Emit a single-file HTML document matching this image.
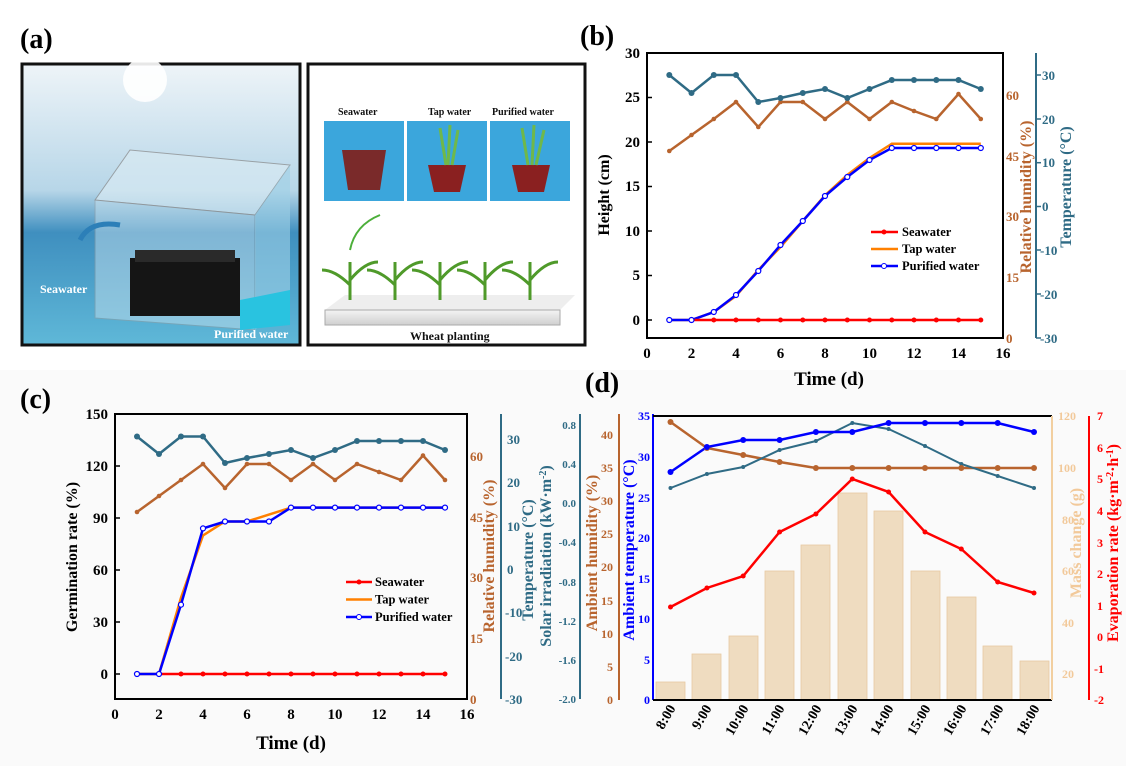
<!DOCTYPE html>
<html><head><meta charset="utf-8"><style>
html,body{margin:0;padding:0;background:#fff}
svg{display:block;font-family:"Liberation Serif",serif;font-weight:bold}
</style></head><body>
<svg width="1126" height="766" viewBox="0 0 1126 766" xmlns="http://www.w3.org/2000/svg">
<rect width="1126" height="766" fill="#fff"/>
<rect x="0" y="370" width="1126" height="396" fill="#fafafa"/>
<!-- ===== Panel (a) ===== -->
<text x="20" y="48" font-size="28">(a)</text>
<defs>
<linearGradient id="sky" x1="0" y1="0" x2="0" y2="1">
<stop offset="0" stop-color="#eef4f8"/><stop offset="0.45" stop-color="#b7d6e8"/><stop offset="0.6" stop-color="#3f8fbf"/><stop offset="1" stop-color="#5fb8d8"/></linearGradient>
<linearGradient id="tray" x1="0" y1="0" x2="0" y2="1"><stop offset="0" stop-color="#f4f4f4"/><stop offset="1" stop-color="#cfcfcf"/></linearGradient>
</defs>
<rect x="22" y="64" width="278" height="281" fill="url(#sky)" stroke="#111" stroke-width="3"/>
<circle cx="145" cy="80" r="22" fill="#fff" opacity="0.9"/>
<polygon points="95,200 130,150 290,165 255,215" fill="#d8eaf3" opacity="0.7" stroke="#888"/>
<polygon points="95,200 95,318 255,330 255,215" fill="#cfe5f0" opacity="0.45" stroke="#999"/>
<rect x="130" y="258" width="110" height="58" fill="#151515"/>
<rect x="135" y="250" width="100" height="12" fill="#2a2a2a"/>
<polygon points="255,215 290,165 290,300 255,330" fill="#9fd0e6" opacity="0.6"/>
<polygon points="240,300 290,290 290,325 240,330" fill="#29c3e0"/>
<path d="M80 240 Q90 220 120 225" stroke="#2c7fb8" stroke-width="5" fill="none"/>
<text x="40" y="293" font-size="12" fill="#fff">Seawater</text>
<text x="214" y="338" font-size="12" fill="#fff">Purified water</text>
<rect x="308" y="64" width="277" height="281" fill="#fff" stroke="#111" stroke-width="3"/>
<text x="338" y="115" font-size="10" fill="#111">Seawater</text>
<text x="428" y="115" font-size="10" fill="#111">Tap water</text>
<text x="492" y="115" font-size="10" fill="#111">Purified water</text>
<rect x="324" y="121" width="80" height="80" fill="#3ba6dc"/>
<rect x="407" y="121" width="80" height="80" fill="#3ba6dc"/>
<rect x="490" y="121" width="80" height="80" fill="#3ba6dc"/>
<path d="M342 150 L386 150 L380 190 L348 190Z" fill="#7a2a2a"/>
<path d="M428 165 L466 165 L460 192 L434 192Z" fill="#8a2020"/>
<path d="M446 165 L440 128 M448 165 L450 125 M452 165 L458 130" stroke="#6fb84a" stroke-width="3"/>
<path d="M512 165 L550 165 L544 192 L518 192Z" fill="#8a2020"/>
<path d="M528 165 L522 128 M532 165 L534 125 M536 165 L544 130" stroke="#6fb84a" stroke-width="3"/>
<path d="M350 250 Q355 225 380 215" stroke="#4caf3a" stroke-width="2" fill="none"/>
<polygon points="325,310 560,310 575,295 345,295" fill="#eee"/>
<rect x="325" y="310" width="235" height="15" fill="url(#tray)" stroke="#aaa"/>
<g stroke="#4f9a2a" stroke-width="3" fill="none">
<path d="M350 300 L350 262 M350 285 Q335 270 322 270 M350 280 Q365 262 378 262"/>
<path d="M395 300 L395 262 M395 285 Q380 270 367 270 M395 280 Q410 262 423 262"/>
<path d="M440 300 L440 262 M440 285 Q425 270 412 270 M440 280 Q455 262 468 262"/>
<path d="M485 300 L485 262 M485 285 Q470 270 457 270 M485 280 Q500 262 513 262"/>
<path d="M530 300 L530 262 M530 285 Q515 270 502 270 M530 280 Q545 262 558 262"/>
</g>
<text x="410" y="340" font-size="12" fill="#111">Wheat planting</text>

<!-- ===== Panel (b) ===== -->
<text x="580" y="45" font-size="28">(b)</text>
<rect x="647" y="53" width="356" height="285" fill="none" stroke="#000" stroke-width="2"/>
<g font-size="15" text-anchor="end">
<text x="640" y="325">0</text><text x="640" y="280">5</text><text x="640" y="236">10</text><text x="640" y="191">15</text><text x="640" y="147">20</text><text x="640" y="102">25</text><text x="640" y="58">30</text>
</g>
<g stroke="#000" stroke-width="1.5"><line x1="647" y1="320" x2="652" y2="320"/><line x1="647" y1="275.5" x2="652" y2="275.5"/><line x1="647" y1="231" x2="652" y2="231"/><line x1="647" y1="186.5" x2="652" y2="186.5"/><line x1="647" y1="142" x2="652" y2="142"/><line x1="647" y1="97.5" x2="652" y2="97.5"/></g>
<g font-size="15" text-anchor="middle">
<text x="647" y="358">0</text><text x="691.5" y="358">2</text><text x="736" y="358">4</text><text x="780.5" y="358">6</text><text x="825" y="358">8</text><text x="869.5" y="358">10</text><text x="914" y="358">12</text><text x="958.5" y="358">14</text><text x="1003" y="358">16</text>
</g>
<text x="829" y="385" font-size="19" text-anchor="middle">Time (d)</text>
<text transform="translate(609,195) rotate(-90)" font-size="16" text-anchor="middle">Height (cm)</text>
<g font-size="13" fill="#b8642e">
<text x="1006" y="343">0</text><text x="1006" y="282">15</text><text x="1006" y="221">30</text><text x="1006" y="161">45</text><text x="1006" y="100">60</text>
</g>
<text transform="translate(1031,197) rotate(-90)" font-size="16" fill="#b8642e" text-anchor="middle">Relative humidity (%)</text>
<line x1="1036" y1="53" x2="1036" y2="338" stroke="#2f6b85" stroke-width="2"/>
<g stroke="#2f6b85" stroke-width="1.5"><line x1="1036" y1="338" x2="1041" y2="338"/><line x1="1036" y1="294" x2="1041" y2="294"/><line x1="1036" y1="250" x2="1041" y2="250"/><line x1="1036" y1="206.5" x2="1041" y2="206.5"/><line x1="1036" y1="162.7" x2="1041" y2="162.7"/><line x1="1036" y1="119" x2="1041" y2="119"/><line x1="1036" y1="75" x2="1041" y2="75"/></g>
<g font-size="13" fill="#2f6b85">
<text x="1040" y="343">-30</text><text x="1040" y="299">-20</text><text x="1040" y="255">-10</text><text x="1042" y="211">0</text><text x="1042" y="167">10</text><text x="1042" y="124">20</text><text x="1042" y="80">30</text>
</g>
<text transform="translate(1071,187) rotate(-90)" font-size="16" fill="#2f6b85" text-anchor="middle">Temperature (°C)</text>
<polyline fill="none" stroke="#2f6b85" stroke-width="2.5" points="669.3,75 691.5,93 713.8,75 736,75 758.3,102 780.5,98 802.8,93 825,89 847.3,98 869.5,89 891.8,80 914,80 936.3,80 958.5,80 980.8,89"/>
<polyline fill="none" stroke="#b8642e" stroke-width="2.5" points="669.3,151 691.5,135 713.8,119 736,102 758.3,127 780.5,102 802.8,102 825,119 847.3,102 869.5,119 891.8,102 914,111 936.3,119 958.5,94 980.8,119"/>
<g fill="#b8642e"><circle cx="669.3" cy="151" r="2.3"/><circle cx="691.5" cy="135" r="2.3"/><circle cx="713.8" cy="119" r="2.3"/><circle cx="736" cy="102" r="2.3"/><circle cx="758.3" cy="127" r="2.3"/><circle cx="780.5" cy="102" r="2.3"/><circle cx="802.8" cy="102" r="2.3"/><circle cx="825" cy="119" r="2.3"/><circle cx="847.3" cy="102" r="2.3"/><circle cx="869.5" cy="119" r="2.3"/><circle cx="891.8" cy="102" r="2.3"/><circle cx="914" cy="111" r="2.3"/><circle cx="936.3" cy="119" r="2.3"/><circle cx="958.5" cy="94" r="2.3"/><circle cx="980.8" cy="119" r="2.3"/></g>
<polyline fill="none" stroke="#ff8000" stroke-width="2.5" points="669.3,320 691.5,320 713.8,312 736,296 758.3,270 780.5,247 802.8,221 825,195.4 847.3,175 869.5,158 891.8,143.8 914,143.8 936.3,143.8 958.5,143.8 980.8,143.8"/>
<polyline fill="none" stroke="#0000ff" stroke-width="2.5" points="669.3,320 691.5,320 713.8,312 736,295 758.3,271 780.5,245 802.8,221 825,196 847.3,177 869.5,160 891.8,148 914,148 936.3,148 958.5,148 980.8,148"/>
<polyline fill="none" stroke="#ff0000" stroke-width="2.5" points="691.5,320 713.8,320 736,320 758.3,320 780.5,320 802.8,320 825,320 847.3,320 869.5,320 891.8,320 914,320 936.3,320 958.5,320 980.8,320"/>
<g fill="#ff0000"><circle cx="713.8" cy="320" r="2.5"/><circle cx="736" cy="320" r="2.5"/><circle cx="758.3" cy="320" r="2.5"/><circle cx="780.5" cy="320" r="2.5"/><circle cx="802.8" cy="320" r="2.5"/><circle cx="825" cy="320" r="2.5"/><circle cx="847.3" cy="320" r="2.5"/><circle cx="869.5" cy="320" r="2.5"/><circle cx="891.8" cy="320" r="2.5"/><circle cx="914" cy="320" r="2.5"/><circle cx="936.3" cy="320" r="2.5"/><circle cx="958.5" cy="320" r="2.5"/><circle cx="980.8" cy="320" r="2.5"/></g>
<g fill="#2f6b85"><circle cx="669.3" cy="75" r="3"/><circle cx="691.5" cy="93" r="3"/><circle cx="713.8" cy="75" r="3"/><circle cx="736" cy="75" r="3"/><circle cx="758.3" cy="102" r="3"/><circle cx="780.5" cy="98" r="3"/><circle cx="802.8" cy="93" r="3"/><circle cx="825" cy="89" r="3"/><circle cx="847.3" cy="98" r="3"/><circle cx="869.5" cy="89" r="3"/><circle cx="891.8" cy="80" r="3"/><circle cx="914" cy="80" r="3"/><circle cx="936.3" cy="80" r="3"/><circle cx="958.5" cy="80" r="3"/><circle cx="980.8" cy="89" r="3"/></g>
<g fill="#fff" stroke="#0000ff" stroke-width="1.2"><circle cx="669.3" cy="320" r="2.5"/><circle cx="691.5" cy="320" r="2.5"/><circle cx="713.8" cy="312" r="2.5"/><circle cx="736" cy="295" r="2.5"/><circle cx="758.3" cy="271" r="2.5"/><circle cx="780.5" cy="245" r="2.5"/><circle cx="802.8" cy="221" r="2.5"/><circle cx="825" cy="196" r="2.5"/><circle cx="847.3" cy="177" r="2.5"/><circle cx="869.5" cy="160" r="2.5"/><circle cx="891.8" cy="148" r="2.5"/><circle cx="914" cy="148" r="2.5"/><circle cx="936.3" cy="148" r="2.5"/><circle cx="958.5" cy="148" r="2.5"/><circle cx="980.8" cy="148" r="2.5"/></g>
<line x1="871" y1="232" x2="898" y2="232" stroke="#ff0000" stroke-width="2.5"/><circle cx="884" cy="232" r="2.5" fill="#f00"/>
<line x1="871" y1="249" x2="898" y2="249" stroke="#ff8000" stroke-width="2.5"/>
<line x1="871" y1="266" x2="898" y2="266" stroke="#0000ff" stroke-width="2.5"/><circle cx="884" cy="266" r="2.5" fill="#fff" stroke="#00f"/>
<g font-size="12.5"><text x="902" y="236">Seawater</text><text x="902" y="253">Tap water</text><text x="902" y="270">Purified water</text></g>

<!-- ===== Panel (c) ===== -->
<text x="20" y="408" font-size="28">(c)</text>
<rect x="115" y="414" width="352" height="285" fill="none" stroke="#000" stroke-width="2"/>
<g font-size="15" text-anchor="end">
<text x="108" y="679">0</text><text x="108" y="627">30</text><text x="108" y="575">60</text><text x="108" y="523">90</text><text x="108" y="471">120</text><text x="108" y="419">150</text>
</g>
<g stroke="#000" stroke-width="1.5"><line x1="115" y1="674" x2="120" y2="674"/><line x1="115" y1="622" x2="120" y2="622"/><line x1="115" y1="570" x2="120" y2="570"/><line x1="115" y1="518" x2="120" y2="518"/><line x1="115" y1="466" x2="120" y2="466"/></g>
<g font-size="15" text-anchor="middle">
<text x="115" y="719">0</text><text x="159" y="719">2</text><text x="203" y="719">4</text><text x="247" y="719">6</text><text x="291" y="719">8</text><text x="335" y="719">10</text><text x="379" y="719">12</text><text x="423" y="719">14</text><text x="467" y="719">16</text>
</g>
<text x="291" y="749" font-size="19" text-anchor="middle">Time (d)</text>
<text transform="translate(77,557) rotate(-90)" font-size="16" text-anchor="middle">Germination rate (%)</text>
<g font-size="13" fill="#b8642e">
<text x="470" y="704">0</text><text x="470" y="643">15</text><text x="470" y="582">30</text><text x="470" y="522">45</text><text x="470" y="461">60</text>
</g>
<text transform="translate(494,556) rotate(-90)" font-size="16" fill="#b8642e" text-anchor="middle">Relative humidity (%)</text>
<line x1="501" y1="414" x2="501" y2="699" stroke="#2f6b85" stroke-width="2"/>
<g font-size="13" fill="#2f6b85">
<text x="505" y="704">-30</text><text x="505" y="661">-20</text><text x="505" y="617">-10</text><text x="507" y="574">0</text><text x="507" y="531">10</text><text x="507" y="487">20</text><text x="507" y="444">30</text>
</g>
<text transform="translate(533,560) rotate(-90)" font-size="16" fill="#2f6b85" text-anchor="middle">Temperature (°C)</text>
<text transform="translate(551,556) rotate(-90)" font-size="16" fill="#2f6b85" text-anchor="middle">Solar irradiation (kW·m<tspan dy="-5" font-size="10">-2</tspan><tspan dy="5">)</tspan></text>
<line x1="580" y1="414" x2="580" y2="699" stroke="#2f6b85" stroke-width="2"/>
<g font-size="11" fill="#2f6b85" text-anchor="end">
<text x="576" y="703">-2.0</text><text x="576" y="664">-1.6</text><text x="576" y="625">-1.2</text><text x="576" y="586">-0.8</text><text x="576" y="546">-0.4</text><text x="576" y="507">0.0</text><text x="576" y="468">0.4</text><text x="576" y="429">0.8</text>
</g>
<polyline fill="none" stroke="#2f6b85" stroke-width="2.5" points="137,436.5 159,454 181,436.5 203,436.5 225,463 247,458 269,454 291,450 313,458 335,450 357,441 379,441 401,441 423,441 445,450"/>
<polyline fill="none" stroke="#b8642e" stroke-width="2.5" points="137,512 159,496 181,480 203,464 225,488 247,464 269,464 291,480 313,464 335,480 357,464 379,472 401,480 423,455.5 445,480"/>
<g fill="#b8642e"><circle cx="137" cy="512" r="2.3"/><circle cx="159" cy="496" r="2.3"/><circle cx="181" cy="480" r="2.3"/><circle cx="203" cy="464" r="2.3"/><circle cx="225" cy="488" r="2.3"/><circle cx="247" cy="464" r="2.3"/><circle cx="269" cy="464" r="2.3"/><circle cx="291" cy="480" r="2.3"/><circle cx="313" cy="464" r="2.3"/><circle cx="335" cy="480" r="2.3"/><circle cx="357" cy="464" r="2.3"/><circle cx="379" cy="472" r="2.3"/><circle cx="401" cy="480" r="2.3"/><circle cx="423" cy="455.5" r="2.3"/><circle cx="445" cy="480" r="2.3"/></g>
<polyline fill="none" stroke="#ff8000" stroke-width="2.5" points="137,674 159,674 181,597.7 203,535.4 225,521.5 247,521.5 269,514.6 291,507.6 313,507.6 335,507.6 357,507.6 379,507.6 401,507.6 423,507.6 445,507.6"/>
<polyline fill="none" stroke="#0000ff" stroke-width="2.5" points="137,674 159,674 181,604.7 203,528.4 225,521.5 247,521.5 269,521.5 291,507.6 313,507.6 335,507.6 357,507.6 379,507.6 401,507.6 423,507.6 445,507.6"/>
<polyline fill="none" stroke="#ff0000" stroke-width="2.5" points="159,674 445,674"/>
<g fill="#ff0000"><circle cx="181" cy="674" r="2.5"/><circle cx="203" cy="674" r="2.5"/><circle cx="225" cy="674" r="2.5"/><circle cx="247" cy="674" r="2.5"/><circle cx="269" cy="674" r="2.5"/><circle cx="291" cy="674" r="2.5"/><circle cx="313" cy="674" r="2.5"/><circle cx="335" cy="674" r="2.5"/><circle cx="357" cy="674" r="2.5"/><circle cx="379" cy="674" r="2.5"/><circle cx="401" cy="674" r="2.5"/><circle cx="423" cy="674" r="2.5"/><circle cx="445" cy="674" r="2.5"/></g>
<g fill="#2f6b85"><circle cx="137" cy="436.5" r="3"/><circle cx="159" cy="454" r="3"/><circle cx="181" cy="436.5" r="3"/><circle cx="203" cy="436.5" r="3"/><circle cx="225" cy="463" r="3"/><circle cx="247" cy="458" r="3"/><circle cx="269" cy="454" r="3"/><circle cx="291" cy="450" r="3"/><circle cx="313" cy="458" r="3"/><circle cx="335" cy="450" r="3"/><circle cx="357" cy="441" r="3"/><circle cx="379" cy="441" r="3"/><circle cx="401" cy="441" r="3"/><circle cx="423" cy="441" r="3"/><circle cx="445" cy="450" r="3"/></g>
<g fill="#fff" stroke="#0000ff" stroke-width="1.2"><circle cx="137" cy="674" r="2.5"/><circle cx="159" cy="674" r="2.5"/><circle cx="181" cy="604.7" r="2.5"/><circle cx="203" cy="528.4" r="2.5"/><circle cx="225" cy="521.5" r="2.5"/><circle cx="247" cy="521.5" r="2.5"/><circle cx="269" cy="521.5" r="2.5"/><circle cx="291" cy="507.6" r="2.5"/><circle cx="313" cy="507.6" r="2.5"/><circle cx="335" cy="507.6" r="2.5"/><circle cx="357" cy="507.6" r="2.5"/><circle cx="379" cy="507.6" r="2.5"/><circle cx="401" cy="507.6" r="2.5"/><circle cx="423" cy="507.6" r="2.5"/><circle cx="445" cy="507.6" r="2.5"/></g>
<line x1="346" y1="582" x2="372" y2="582" stroke="#ff0000" stroke-width="2.5"/><circle cx="359" cy="582" r="2.5" fill="#f00"/>
<line x1="346" y1="599.5" x2="372" y2="599.5" stroke="#ff8000" stroke-width="2.5"/>
<line x1="346" y1="617" x2="372" y2="617" stroke="#0000ff" stroke-width="2.5"/><circle cx="359" cy="617" r="2.5" fill="#fff" stroke="#00f"/>
<g font-size="12.5"><text x="375" y="586">Seawater</text><text x="375" y="603.5">Tap water</text><text x="375" y="621">Purified water</text></g>

<!-- ===== Panel (d) ===== -->
<text x="585" y="392" font-size="28">(d)</text>
<line x1="619" y1="414" x2="619" y2="700" stroke="#b8642e" stroke-width="2"/>
<g font-size="12" fill="#b8642e" text-anchor="end">
<text x="613" y="704">0</text><text x="613" y="671">5</text><text x="613" y="638">10</text><text x="613" y="605">15</text><text x="613" y="571">20</text><text x="613" y="538">25</text><text x="613" y="505">30</text><text x="613" y="472">35</text><text x="613" y="439">40</text>
</g>
<text transform="translate(597,553) rotate(-90)" font-size="16" fill="#b8642e" text-anchor="middle">Ambient humidity (%)</text>
<text transform="translate(634,550) rotate(-90)" font-size="16" fill="#0000ff" text-anchor="middle">Ambient temperature (°C)</text>
<g font-size="12" fill="#0000ff" text-anchor="end">
<text x="650" y="704">0</text><text x="650" y="664">5</text><text x="650" y="623">10</text><text x="650" y="583">15</text><text x="650" y="542">20</text><text x="650" y="502">25</text><text x="650" y="461">30</text><text x="650" y="420">35</text>
</g>
<g fill="#efdcc0" stroke="#e6c9a0" stroke-width="0.8">
<rect x="656" y="682" width="29" height="18"/><rect x="692" y="654" width="29" height="46"/><rect x="729" y="636" width="29" height="64"/><rect x="765" y="571" width="29" height="129"/><rect x="801" y="545" width="29" height="155"/><rect x="838" y="493" width="29" height="207"/><rect x="874" y="511" width="29" height="189"/><rect x="911" y="571" width="29" height="129"/><rect x="947" y="597" width="29" height="103"/><rect x="983" y="646" width="29" height="54"/><rect x="1020" y="661" width="29" height="39"/>
</g>
<line x1="653" y1="414" x2="653" y2="700" stroke="#0000ff" stroke-width="2"/>
<line x1="653" y1="700" x2="1052" y2="700" stroke="#000" stroke-width="2"/>
<line x1="653" y1="416" x2="1052" y2="416" stroke="#000" stroke-width="2"/>
<line x1="1052" y1="416" x2="1052" y2="700" stroke="#f2cfa0" stroke-width="2"/>
<g font-size="12" fill="#f2c99a">
<text x="1058" y="420">120</text><text x="1058" y="472">100</text><text x="1062" y="524">80</text><text x="1062" y="575">60</text><text x="1062" y="627">40</text><text x="1062" y="678">20</text>
</g>
<text transform="translate(1081,543) rotate(-90)" font-size="16" fill="#f2c99a" text-anchor="middle">Mass change (g)</text>
<line x1="1089" y1="416" x2="1089" y2="700" stroke="#ff0000" stroke-width="2"/>
<g font-size="12" fill="#ff0000">
<text x="1097" y="420">7</text><text x="1097" y="452">6</text><text x="1097" y="483">5</text><text x="1097" y="515">4</text><text x="1097" y="547">3</text><text x="1097" y="578">2</text><text x="1097" y="610">1</text><text x="1097" y="641">0</text><text x="1094" y="673">-1</text><text x="1094" y="704">-2</text>
</g>
<text transform="translate(1118,543) rotate(-90)" font-size="16" fill="#ff0000" text-anchor="middle">Evaporation rate (kg·m<tspan dy="-5" font-size="10">-2</tspan><tspan dy="5">·h</tspan><tspan dy="-5" font-size="10">-1</tspan><tspan dy="5">)</tspan></text>
<polyline fill="none" stroke="#b8642e" stroke-width="2.5" points="670.5,422 706.9,448 743.2,455 779.6,462 815.9,468 852.3,468 888.6,468 925,468 961.3,468 997.7,468 1034,468"/>
<polyline fill="none" stroke="#2f6b85" stroke-width="2" points="670.5,488 706.9,474 743.2,467 779.6,450 815.9,441 852.3,423 888.6,429 925,446 961.3,464 997.7,476 1034,488"/>
<g fill="#2f6b85"><circle cx="670.5" cy="488" r="2"/><circle cx="706.9" cy="474" r="2"/><circle cx="743.2" cy="467" r="2"/><circle cx="779.6" cy="450" r="2"/><circle cx="815.9" cy="441" r="2"/><circle cx="852.3" cy="423" r="2"/><circle cx="888.6" cy="429" r="2"/><circle cx="925" cy="446" r="2"/><circle cx="961.3" cy="464" r="2"/><circle cx="997.7" cy="476" r="2"/><circle cx="1034" cy="488" r="2"/></g>
<polyline fill="none" stroke="#0000ff" stroke-width="2.5" points="670.5,472 706.9,447 743.2,440 779.6,440 815.9,432 852.3,432 888.6,423 925,423 961.3,423 997.7,423 1034,432"/>
<polyline fill="none" stroke="#ff0000" stroke-width="2.5" points="670.5,607 706.9,588 743.2,576 779.6,532 815.9,514 852.3,479 888.6,492 925,532 961.3,549 997.7,582 1034,593"/>
<g fill="#b8642e"><circle cx="670.5" cy="422" r="3"/><circle cx="706.9" cy="448" r="3"/><circle cx="743.2" cy="455" r="3"/><circle cx="779.6" cy="462" r="3"/><circle cx="815.9" cy="468" r="3"/><circle cx="852.3" cy="468" r="3"/><circle cx="888.6" cy="468" r="3"/><circle cx="925" cy="468" r="3"/><circle cx="961.3" cy="468" r="3"/><circle cx="997.7" cy="468" r="3"/><circle cx="1034" cy="468" r="3"/></g>
<g fill="#0000ff"><circle cx="670.5" cy="472" r="3"/><circle cx="706.9" cy="447" r="3"/><circle cx="743.2" cy="440" r="3"/><circle cx="779.6" cy="440" r="3"/><circle cx="815.9" cy="432" r="3"/><circle cx="852.3" cy="432" r="3"/><circle cx="888.6" cy="423" r="3"/><circle cx="925" cy="423" r="3"/><circle cx="961.3" cy="423" r="3"/><circle cx="997.7" cy="423" r="3"/><circle cx="1034" cy="432" r="3"/></g>
<g fill="#ff0000"><circle cx="670.5" cy="607" r="2.5"/><circle cx="706.9" cy="588" r="2.5"/><circle cx="743.2" cy="576" r="2.5"/><circle cx="779.6" cy="532" r="2.5"/><circle cx="815.9" cy="514" r="2.5"/><circle cx="852.3" cy="479" r="2.5"/><circle cx="888.6" cy="492" r="2.5"/><circle cx="925" cy="532" r="2.5"/><circle cx="961.3" cy="549" r="2.5"/><circle cx="997.7" cy="582" r="2.5"/><circle cx="1034" cy="593" r="2.5"/></g>
<g font-size="14" text-anchor="end">
<text transform="translate(676,708) rotate(-60)">8:00</text>
<text transform="translate(712,708) rotate(-60)">9:00</text>
<text transform="translate(749,708) rotate(-60)">10:00</text>
<text transform="translate(785,708) rotate(-60)">11:00</text>
<text transform="translate(822,708) rotate(-60)">12:00</text>
<text transform="translate(858,708) rotate(-60)">13:00</text>
<text transform="translate(894,708) rotate(-60)">14:00</text>
<text transform="translate(931,708) rotate(-60)">15:00</text>
<text transform="translate(967,708) rotate(-60)">16:00</text>
<text transform="translate(1004,708) rotate(-60)">17:00</text>
<text transform="translate(1040,708) rotate(-60)">18:00</text>
</g>
</svg>
</body></html>
